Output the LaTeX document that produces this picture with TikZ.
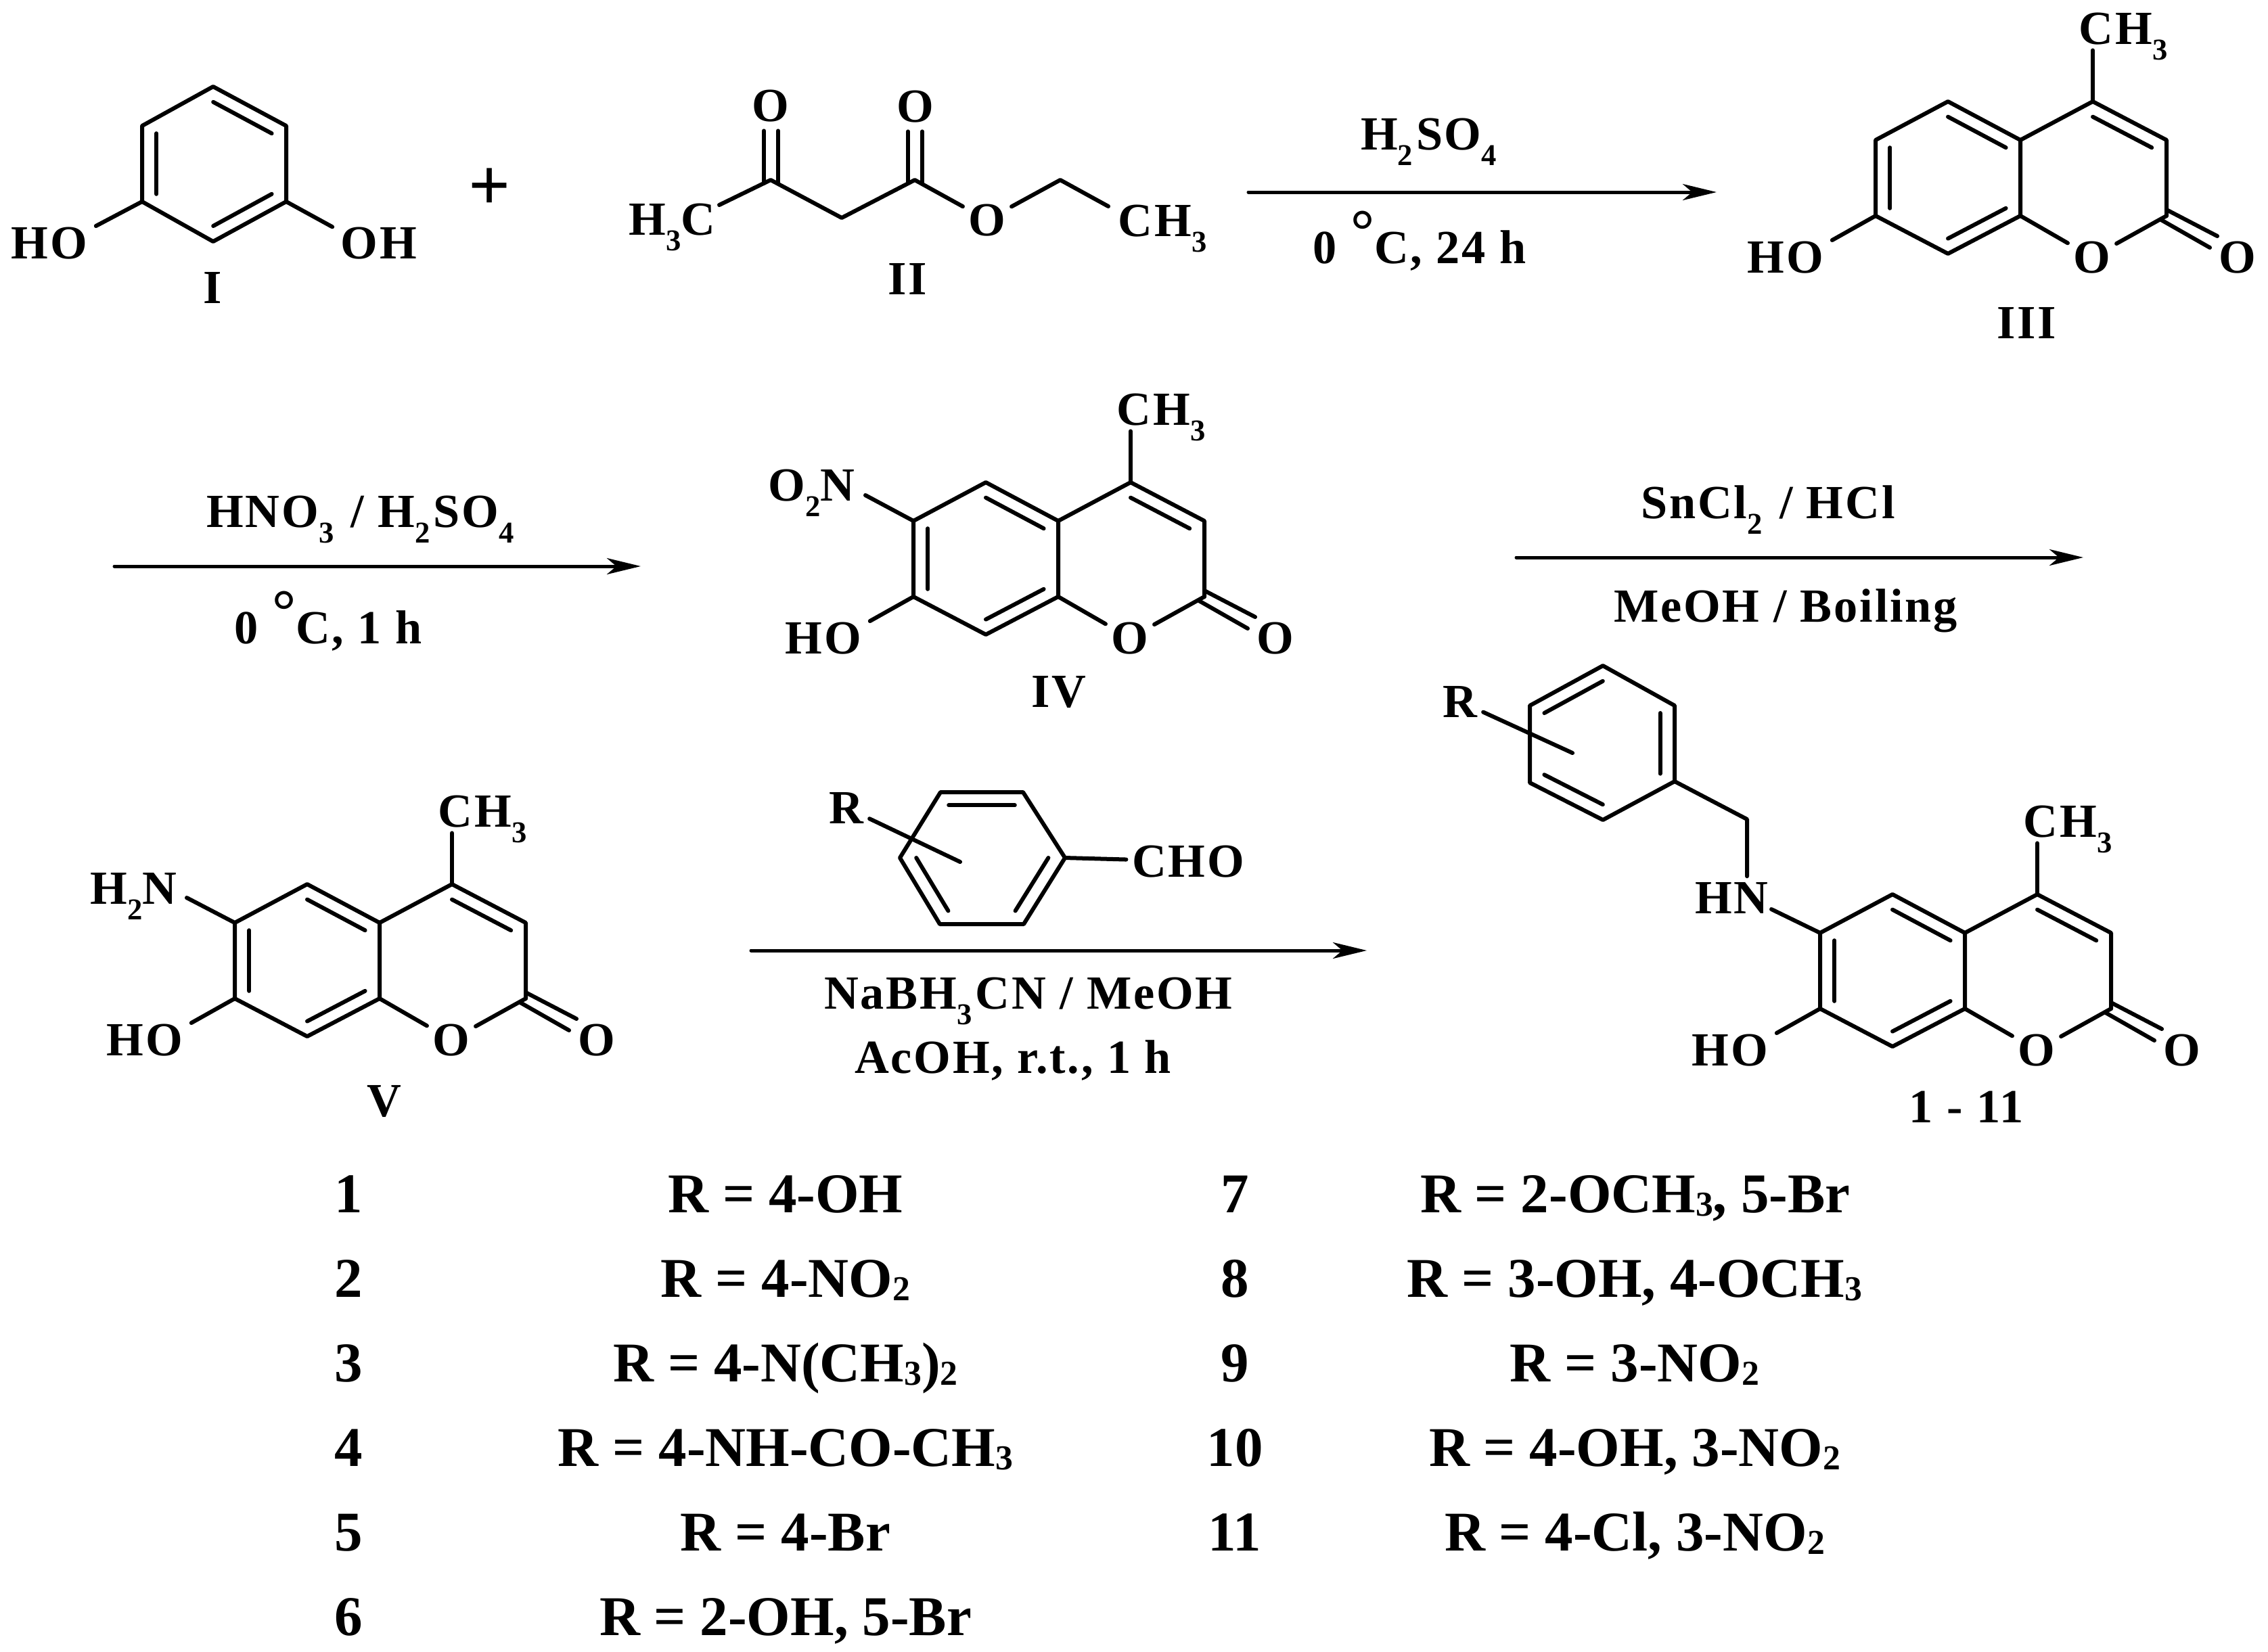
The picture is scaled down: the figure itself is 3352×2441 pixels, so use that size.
\documentclass[tikz,border=0pt]{standalone}
\usepackage{fontspec}
\setmainfont{Liberation Serif}
\newfontfamily\chemfont[LetterSpace=4]{Liberation Serif}
\usetikzlibrary{arrows.meta,calc,positioning}
\newcommand{\lsub}[1]{\smash{\raisebox{-.33em}{\fontsize{12.7pt}{13pt}\selectfont #1}}}
\newcommand{\rsub}[1]{\lsub{#1}\kern.07em\relax}
\newcommand{\tsub}[1]{\smash{\raisebox{-.07em}{\fontsize{14.7pt}{15pt}\selectfont #1}}}
\newcommand{\degsign}{\raisebox{.27em}{\fontsize{25pt}{25pt}\selectfont °}}
\tikzset{
    %Define standard arrow tip
    >={Stealth[length=5mm,width=2.4mm,inset=1.4mm]},
    %Define style for atom labels
    atom/.style={
           anchor=base,
           inner sep=.08cm,
           font=\chemfont\bfseries\fontsize{20pt}{24pt}\selectfont},
    atomwide/.style={
           atom,
           inner xsep=.12cm},
    reagent/.style={
           atom,
           inner sep=0pt},
    plussign/.style={
           inner sep=0pt,
           font=\bfseries\fontsize{31pt}{33pt}\selectfont},
    entry/.style={
           anchor=base,
           inner sep=0pt,
           font=\bfseries\fontsize{23.6pt}{28pt}\selectfont},
    % Define line styles
    bond/.style={
           line width=.06cm,
           line cap=round,
           line join=round},
    rxn/.style={
           ->,
           line width=.05cm,
           line cap=round}
}
% inner line of a double bond, pulled towards the ring centre
\newcommand{\innerbond}[3]{\draw[bond] ($(#1)!.2!(#3)$) -- ($(#2)!.2!(#3)$);}
% coumarin skeleton: prefix, then position of the ring atom at upper left
\newcommand{\coumarin}[3]{%
  \begin{scope}[shift={(#2,#3)}]
    \coordinate (#1-a) at (0,0);
    \coordinate (#1-b) at (107,-57);
    \coordinate (#1-c) at (214,0);
    \coordinate (#1-d) at (214,112);
    \coordinate (#1-e) at (107,168);
    \coordinate (#1-f) at (0,112);
    \coordinate (#1-g) at (321,-57);
    \coordinate (#1-h) at (430,0);
    \coordinate (#1-i) at (430,112);
    \coordinate (#1-m) at (107,56);
    \coordinate (#1-n) at (321,56);
    \coordinate (#1-ca) at (430,103);
    \coordinate (#1-cb) at (505,142);
    \coordinate (#1-cc) at (422,118);
    \coordinate (#1-cd) at (494,159);
    \node[atomwide] (#1-ho) at (-133,196) {HO};
    \node[atom] (#1-o) at (320,196) {O};
    \node[atom] (#1-co) at (535,196) {O};
    \node[atom,anchor=base west] (#1-me) at (292,-142) {CH\lsub{3}};
    \draw[bond] (#1-a) -- (#1-b) -- (#1-c) -- (#1-d) -- (#1-e) -- (#1-f) -- cycle;
    \draw[bond] (#1-c) -- (#1-g) -- (#1-h) -- (#1-i);
    \draw[bond] (#1-d) -- (#1-o);
    \draw[bond] (#1-i) -- (#1-o);
    \draw[bond] (#1-f) -- (#1-ho.20);
    \draw[bond] (#1-g) -- (#1-g |- #1-me.south);
    \draw[bond] (#1-ca) -- (#1-cb);
    \draw[bond] (#1-cc) -- (#1-cd);
    \innerbond{#1-b}{#1-c}{#1-m}
    \innerbond{#1-a}{#1-f}{#1-m}
    \innerbond{#1-d}{#1-e}{#1-m}
    \innerbond{#1-g}{#1-h}{#1-n}
  \end{scope}}

\begin{document}
\begin{tikzpicture}[x=.01cm,y=-.01cm]
\useasboundingbox (0,0) rectangle (3352,2441);

 %resorcinol
\coordinate (r1) at (315,128);
\coordinate (r2) at (423,186);
\coordinate (r3) at (423,298);
\coordinate (r4) at (315,357);
\coordinate (r5) at (210,298);
\coordinate (r6) at (210,186);
\coordinate (rm) at (316,242);
\node[atomwide] (rho) at (73,382) {HO};
\node[atomwide] (roh) at (560,382) {OH};
\node[atom] (lbli) at (314,448) {I};
\node[plussign] (plus) at (724,280) {+};
\draw[bond] (r1) -- (r2) -- (r3) -- (r4) -- (r5) -- (r6) -- cycle;
\draw[bond] (r5) -- (rho.20);
\draw[bond] (r3) -- (roh.161);
\innerbond{r1}{r2}{rm}
\innerbond{r3}{r4}{rm}
\innerbond{r5}{r6}{rm}

 %ethyl acetoacetate
\coordinate (e1) at (1139,266);
\coordinate (e2) at (1244,322);
\coordinate (e3) at (1352,266);
\coordinate (e4) at (1567,266);
\coordinate (eleft) at (1063,303);
\coordinate (eright) at (1638,305);
\node[atom,anchor=base east] (eh3c) at (1066,347) {H\lsub{3}C};
\node[atom] (eoa) at (1139,179) {O};
\node[atom] (eob) at (1353,180) {O};
\node[atom] (eo) at (1459,348) {O};
\node[atom,anchor=base west] (ech3) at (1644,349) {CH\lsub{3}};
\node[atom] (lblii) at (1341,435) {II};
\draw[bond] (eleft) -- (e1) -- (e2) -- (e3) -- (eo);
\draw[bond] (eo) -- (e4) -- (eright);
\draw[bond] ([shift={(-10,5)}]e1) -- ([shift={(-10,5)}]e1 |- eoa.south);
\draw[bond] ([shift={(11,5)}]e1) -- ([shift={(11,5)}]e1 |- eoa.south);
\draw[bond] ([shift={(-10,5)}]e3) -- ([shift={(-10,5)}]e3 |- eob.south);
\draw[bond] ([shift={(11,5)}]e3) -- ([shift={(11,5)}]e3 |- eob.south);

 %first reaction
\coordinate (arra) at (1845,284);
\coordinate (arrb) at (2537,284);
\draw[rxn] (arra) -- (arrb);
\node[reagent] (rgta) at (2114,221) {H\rsub{2}SO\rsub{4}};
\node[reagent] (rgtb) at (2098,389) {0 \degsign C, 24 h};

 %coumarins
\coumarin{iii}{2772}{207}
\node[atom] (lbliii) at (2995,500) {III};

\coumarin{iv}{1350}{770}
\coordinate (ivend) at (1279,732);
\node[atom,anchor=base east] (ivno) at (1272,740) {O\lsub{2}N};
\node[atom] (lbliv) at (1565,1045) {IV};
\draw[bond] (iv-a) -- (ivend);

\coumarin{v}{347}{1364}
\coordinate (vend) at (276,1327);
\node[atom,anchor=base east] (vnh) at (270,1336) {H\lsub{2}N};
\node[atom] (lblv) at (568,1650) {V};
\draw[bond] (v-a) -- (vend);

 %second and third reaction
\coordinate (arrc) at (169,837);
\coordinate (arrd) at (947,837);
\draw[rxn] (arrc) -- (arrd);
\node[reagent] (rgtc) at (535,779) {HNO\rsub{3} / H\rsub{2}SO\rsub{4}};
\node[reagent] (rgtd) at (485,951) {0 \degsign C, 1 h};

\coordinate (arre) at (2241,824);
\coordinate (arrf) at (3079,824);
\draw[rxn] (arre) -- (arrf);
\node[reagent] (rgte) at (2613,766) {SnCl\rsub{2} / HCl};
\node[reagent] (rgtf) at (2639,919) {MeOH / Boiling};

 %aldehyde and fourth reaction
\coordinate (a1) at (1390,1171);
\coordinate (a2) at (1512,1171);
\coordinate (a3) at (1574,1268);
\coordinate (a4) at (1513,1366);
\coordinate (a5) at (1389,1366);
\coordinate (a6) at (1330,1268);
\coordinate (am) at (1451,1268);
\coordinate (ain) at (1419,1274);
\node[atom] (ar) at (1251,1217) {R};
\node[atom] (acho) at (1756,1296) {CHO};
\draw[bond] (a1) -- (a2) -- (a3) -- (a4) -- (a5) -- (a6) -- cycle;
\draw[bond] (a3) -- (acho);
\draw[bond] (ain) -- (ar);
\innerbond{a1}{a2}{am}
\innerbond{a3}{a4}{am}
\innerbond{a5}{a6}{am}

\coordinate (arrg) at (1110,1405);
\coordinate (arrh) at (2020,1405);
\draw[rxn] (arrg) -- (arrh);
\node[reagent] (rgtg) at (1520,1491) {NaBH\rsub{3}CN / MeOH};
\node[reagent] (rgth) at (1497,1586) {AcOH, r.t., 1 h};

 %product
\coumarin{p}{2690}{1379}
\coordinate (b1) at (2369,984);
\coordinate (b2) at (2475,1043);
\coordinate (b3) at (2475,1155);
\coordinate (b4) at (2369,1212);
\coordinate (b5) at (2261,1157);
\coordinate (b6) at (2261,1043);
\coordinate (bm) at (2368,1098);
\coordinate (bin) at (2324,1113);
\coordinate (bch) at (2582,1211);
\coordinate (pend) at (2618,1344);
\node[atom] (br) at (2158,1060) {R};
\node[atom,anchor=base east] (phn) at (2622,1350) {HN};
\node[atom] (lblp) at (2906,1659) {1 - 11};
\draw[bond] (b1) -- (b2) -- (b3) -- (b4) -- (b5) -- (b6) -- cycle;
\draw[bond] (bin) -- (br);
\draw[bond] (b3) -- (bch) -- (bch |- phn.north);
\draw[bond] (p-a) -- (pend);
\innerbond{b1}{b6}{bm}
\innerbond{b2}{b3}{bm}
\innerbond{b4}{b5}{bm}

 %table, left column
\node[entry] (num1) at (515,1792) {1};
\node[entry] (num2) at (515,1917) {2};
\node[entry] (num3) at (515,2042) {3};
\node[entry] (num4) at (515,2167) {4};
\node[entry] (num5) at (515,2292) {5};
\node[entry] (num6) at (515,2417) {6};
\node[entry] (val1) at (1161,1792) {R = 4-OH};
\node[entry] (val2) at (1161,1917) {R = 4-NO\tsub{2}};
\node[entry] (val3) at (1161,2042) {R = 4-N(CH\tsub{3})\tsub{2}};
\node[entry] (val4) at (1161,2167) {R = 4-NH-CO-CH\tsub{3}};
\node[entry] (val5) at (1161,2292) {R = 4-Br};
\node[entry] (val6) at (1161,2417) {R = 2-OH, 5-Br};

 %table, right column
\node[entry] (num7) at (1825,1792) {7};
\node[entry] (num8) at (1825,1917) {8};
\node[entry] (num9) at (1825,2042) {9};
\node[entry] (num10) at (1825,2167) {10};
\node[entry] (num11) at (1825,2292) {11};
\node[entry] (val7) at (2417,1792) {R = 2-OCH\tsub{3}, 5-Br};
\node[entry] (val8) at (2416,1917) {R = 3-OH, 4-OCH\tsub{3}};
\node[entry] (val9) at (2416,2042) {R = 3-NO\tsub{2}};
\node[entry] (val10) at (2416,2167) {R = 4-OH, 3-NO\tsub{2}};
\node[entry] (val11) at (2416,2292) {R = 4-Cl, 3-NO\tsub{2}};

\end{tikzpicture}
\end{document}
